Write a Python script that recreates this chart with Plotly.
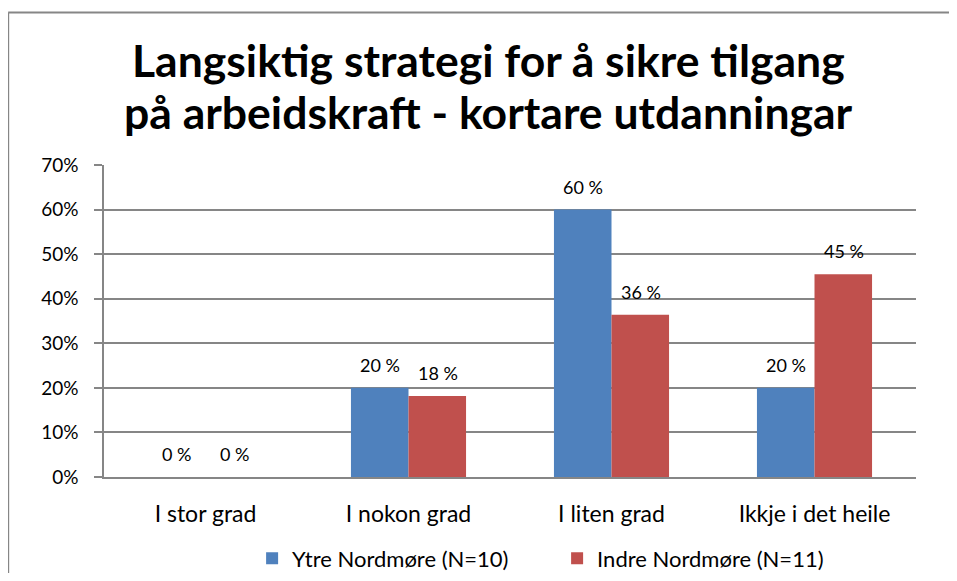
import plotly.graph_objects as go

categories = ["I stor grad", "I nokon grad", "I liten grad", "Ikkje i det heile"]
ytre = [0.0, 0.20, 0.60, 0.20]
indre = [0.0, 0.182, 0.364, 0.455]
ytre_labels = ["0 %", "20 %", "60 %", "20 %"]
indre_labels = ["0 %", "18 %", "36 %", "45 %"]
series_names = ["Ytre Nordmøre (N=10)", "Indre Nordmøre (N=11)"]
title_lines = ["Langsiktig strategi for å sikre tilgang",
               "på arbeidskraft - kortare utdanningar"]

BLUE = "#4F81BD"
RED = "#C0504D"
GRID = "#868686"
FONT = "Lato"

fig = go.Figure()
fig.add_trace(go.Bar(x=categories, y=ytre, name=series_names[0],
                     marker=dict(color=BLUE, line=dict(width=0))))
fig.add_trace(go.Bar(x=categories, y=indre, name=series_names[1],
                     marker=dict(color=RED, line=dict(width=0))))

for vals, labs, shift in ((ytre, ytre_labels, -29), (indre, indre_labels, 29)):
    for c, v, t in zip(categories, vals, labs):
        fig.add_annotation(x=c, y=v, text=t, showarrow=False, xshift=shift,
                           yshift=23, font=dict(family=FONT, size=18, color="#000"))

# chart title (two lines)
for line, ypos in zip(title_lines, (1.338, 1.170)):
    fig.add_annotation(xref="paper", yref="paper", x=0.4735, y=ypos, text=line,
                       showarrow=False, xanchor="center", yanchor="middle",
                       font=dict(family=FONT, size=44.5, color="#000", weight="bold"))

# page body has an 8px margin on every side, so the figure is sized to fit inside it
fig.update_layout(
    width=941, height=565,
    margin=dict(l=96, r=33, t=157, b=96, autoexpand=False),
    paper_bgcolor="white", plot_bgcolor="white",
    barmode="group", bargap=0.433, bargroupgap=0,
    font=dict(family=FONT, color="#000"),
    legend=dict(orientation="h", x=0.1824, xanchor="left", y=-0.261, yanchor="middle",
                font=dict(family=FONT, size=22), traceorder="normal", itemwidth=30,
                entrywidth=260),
    showlegend=True,
)
fig.update_yaxes(range=[0, 0.7], dtick=0.1, tickformat=".0%", showgrid=True,
                 gridcolor=GRID, gridwidth=1.5, showline=True, linecolor=GRID, linewidth=1.5,
                 ticks="outside", ticklen=8, tickcolor=GRID, tickwidth=1.5,
                 tickfont=dict(family=FONT, size=19), zeroline=False,
                 ticklabelstandoff=12, automargin=False)
fig.update_xaxes(showline=True, linecolor=GRID, linewidth=1.5, ticks="",
                 tickfont=dict(family=FONT, size=23), ticklabelstandoff=16, automargin=False)

# chart border: only the top and left edges fall inside the picture
fig.add_shape(type="line", xref="paper", yref="paper", x0=-0.118, x1=1.06, y0=1.489, y1=1.489,
              line=dict(color=GRID, width=2), layer="below")
fig.add_shape(type="line", xref="paper", yref="paper", x0=-0.118, x1=-0.118, y0=-0.4, y1=1.489,
              line=dict(color=GRID, width=2), layer="below")

fig.write_html("out.html")
